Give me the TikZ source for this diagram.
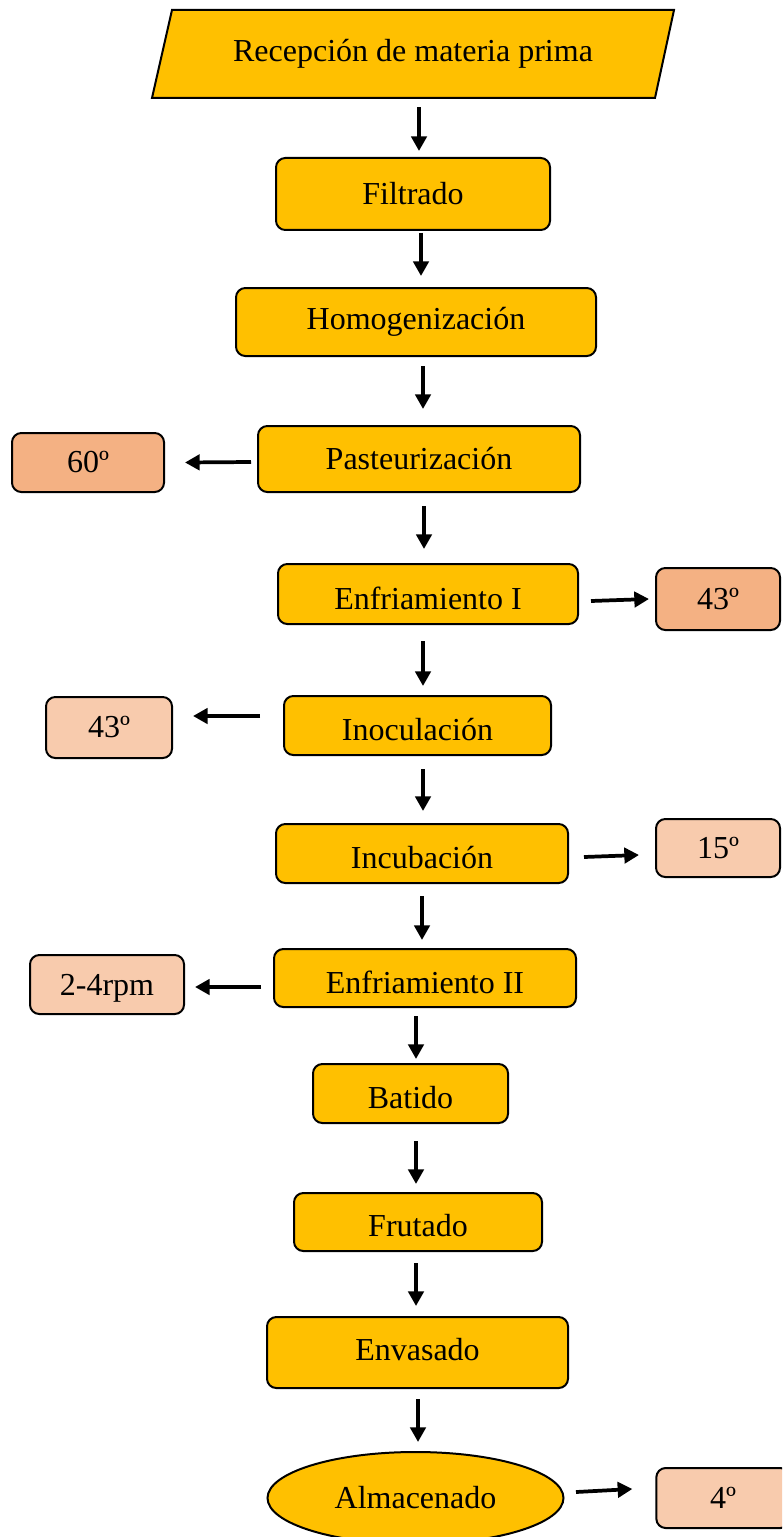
\documentclass[tikz,border=0pt]{standalone}
\usepackage{fontspec}
\setmainfont{Liberation Serif}
\usetikzlibrary{calc,arrows.meta,shapes.geometric}
\definecolor{gold}{HTML}{FFC000}
\definecolor{salmon}{HTML}{F4B183}
\definecolor{peach}{HTML}{F8CBAD}
\newcommand{\lowtxt}[1]{\raisebox{-3pt}[\height][\depth]{#1}}
\tikzset{
  base/.style={draw=black, line width=1.5pt, inner sep=0pt, font=\fontsize{24}{28}\selectfont},
  proc/.style={base, fill=gold, rounded corners=7pt},
  tag/.style={base, rounded corners=7pt},
  arr/.style={line width=2.8pt, -{Triangle[length=11pt,width=11.5pt]}}
}
\begin{document}
\begin{tikzpicture}[x=0.75pt,y=-0.75pt]
\useasboundingbox (0,0) rectangle (782,1537);
\clip (0,0) rectangle (782,1537);
% parallelogram
\draw[line width=1.5pt, fill=gold] (172,10) -- (674,10) -- (655,98) -- (152,98) -- cycle;
\node[inner sep=0pt, minimum height=66pt, font=\fontsize{24}{28}\selectfont] (rec) at (413,54) {Recepción de materia prima};
% process boxes
\node[proc, minimum width=205.5pt, minimum height=54pt] (filt) at (413,194) {Filtrado};
\node[proc, minimum width=270pt, minimum height=51pt] (homo) at (416,322) {Homogenización};
\node[proc, minimum width=241.5pt, minimum height=49.5pt] (past) at (419,459) {Pasteurización};
\node[proc, minimum width=225pt, minimum height=45pt] (enf1) at (428,594) {\lowtxt{Enfriamiento I}};
\node[proc, minimum width=200.25pt, minimum height=44.25pt] (inoc) at (417.5,725.5) {\lowtxt{Inoculación}};
\node[proc, minimum width=219pt, minimum height=44.25pt] (incu) at (422,853.5) {\lowtxt{Incubación}};
\node[proc, minimum width=226.5pt, minimum height=43.5pt] (enf2) at (425,978) {\lowtxt{Enfriamiento II}};
\node[proc, minimum width=146.25pt, minimum height=44.25pt] (bat) at (410.5,1093.5) {\lowtxt{Batido}};
\node[proc, minimum width=186pt, minimum height=43.5pt] (fru) at (418,1222) {\lowtxt{Frutado}};
\node[proc, minimum width=225.75pt, minimum height=53.25pt] (env) at (417.5,1352.5) {\raisebox{2pt}[\height][\depth]{Envasado}};
\node[base, fill=gold, ellipse, minimum width=222pt, minimum height=69pt] (alm) at (415.5,1498) {Almacenado};
% side tags
\node[tag, fill=salmon, minimum width=114pt, minimum height=44.25pt] (t60) at (88,462.5) {60º};
\node[tag, fill=salmon, minimum width=93pt, minimum height=46.5pt] (t43a) at (718,599) {43º};
\node[tag, fill=peach, minimum width=94.5pt, minimum height=45.75pt] (t43b) at (109,727.5) {43º};
\node[tag, fill=peach, minimum width=93pt, minimum height=43.5pt] (t15) at (718,848) {15º};
\node[tag, fill=peach, minimum width=115.5pt, minimum height=44.25pt] (trpm) at (107,984.5) {\lowtxt{2-4rpm}};
\node[tag, fill=peach, minimum width=100pt, minimum height=45pt] (t4) at (723,1498) {4º};
% vertical arrows
\draw[arr] ($(rec.south)+(6,9)$) -- ($(filt.north)+(6,-6)$);
\draw[arr] ($(filt.south)+(8,2)$) -- ($(homo.north)+(5,-11)$);
\draw[arr] ($(homo.south)+(7,9)$) -- ($(past.north)+(4,-16)$);
\draw[arr] ($(past.south)+(5,13)$) -- ($(enf1.north)+(-4,-14)$);
\draw[arr] ($(enf1.south)+(-5,16)$) -- ($(inoc.north)+(5.5,-9)$);
\draw[arr] ($(inoc.south)+(5.5,13)$) -- ($(incu.north)+(1,-12)$);
\draw[arr] ($(incu.south)+(0,12)$) -- ($(enf2.north)+(-3,-8)$);
\draw[arr] ($(enf2.south)+(-9,8)$) -- ($(bat.north)+(5.5,-4)$);
\draw[arr] ($(bat.south)+(5.5,17)$) -- ($(fru.north)+(-2,-8)$);
\draw[arr] ($(fru.south)+(-2,11)$) -- ($(env.north)+(-1.5,-10)$);
\draw[arr] ($(env.south)+(0.5,10)$) -- ($(alm.north)+(2.5,-9)$);
% side arrows
\draw[arr] ($(past.west)+(-6,3)$) -- ($(t60.east)+(20,0)$);
\draw[arr] ($(enf1.east)+(12,7)$) -- ($(t43a.west)+(-6,0)$);
\draw[arr] ($(inoc.west)+(-23,-9.5)$) -- ($(t43b.east)+(20,-11.5)$);
\draw[arr] ($(incu.east)+(15,3.5)$) -- ($(t15.west)+(-16,7)$);
\draw[arr] ($(enf2.west)+(-12,9)$) -- ($(trpm.east)+(10,2.5)$);
\draw[arr] ($(alm.east)+(11.5,-6)$) -- ($(t4.west)+(-23,-9)$);
\end{tikzpicture}
\end{document}
